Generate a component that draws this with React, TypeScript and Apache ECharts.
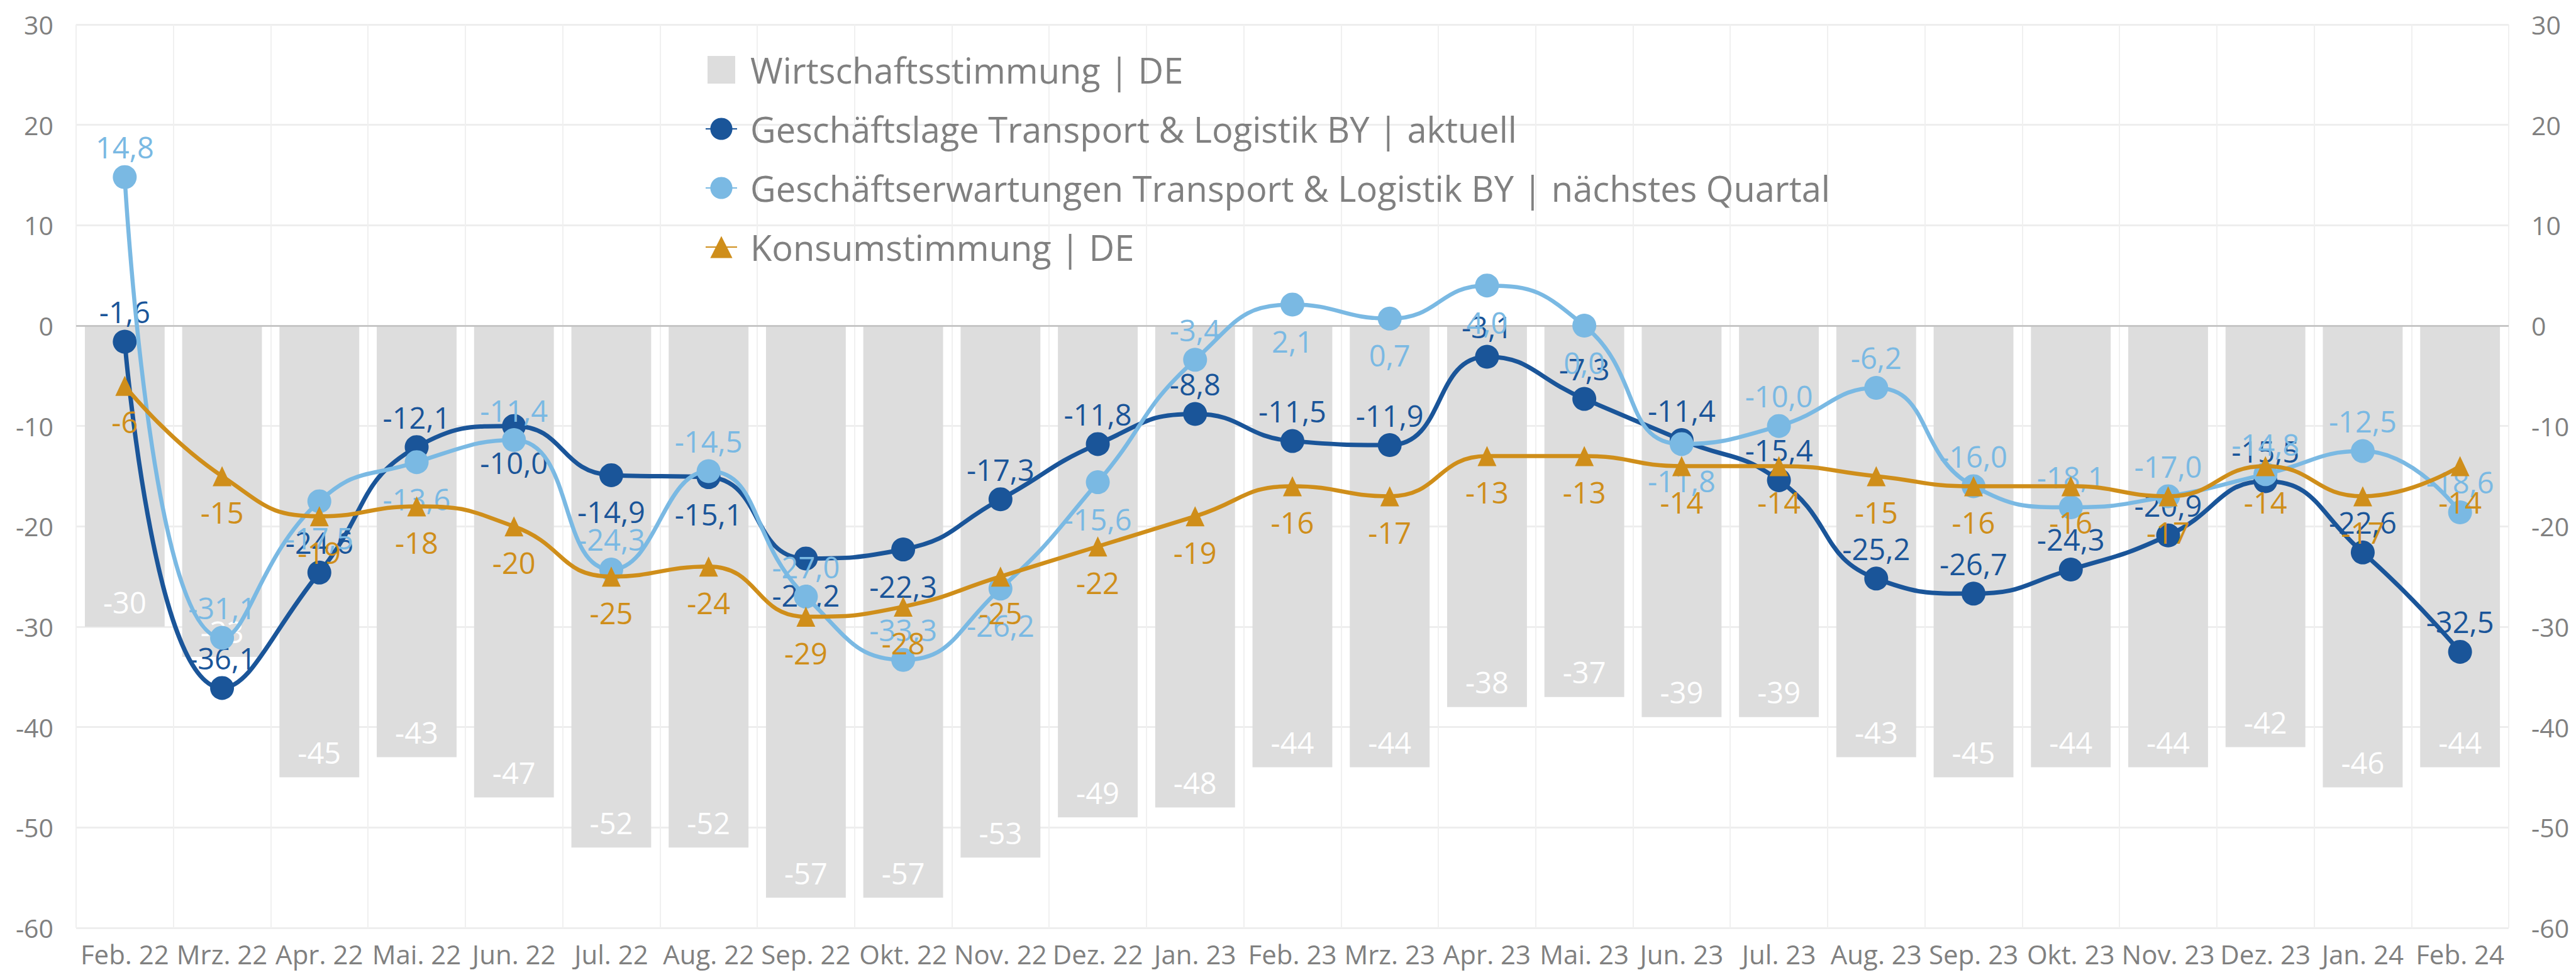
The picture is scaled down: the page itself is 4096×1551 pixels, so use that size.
import React, { useEffect, useRef } from "react";
import * as echarts from "echarts";

const categories = [
  "Feb. 22", "Mrz. 22", "Apr. 22", "Mai. 22", "Jun. 22", "Jul. 22", "Aug. 22", "Sep. 22", "Okt. 22",
  "Nov. 22", "Dez. 22", "Jan. 23", "Feb. 23", "Mrz. 23", "Apr. 23", "Mai. 23", "Jun. 23", "Jul. 23",
  "Aug. 23", "Sep. 23", "Okt. 23", "Nov. 23", "Dez. 23", "Jan. 24", "Feb. 24",
];

const wirtschaftsstimmung = [
  -30, -33, -45, -43, -47, -52, -52, -57, -57, -53, -49, -48, -44, -44, -38, -37, -39, -39, -43, -45, -44, -44, -42, -46, -44,
];

const geschaeftslage = [
  -1.6, -36.1, -24.6, -12.1, -10.0, -14.9, -15.1, -23.2, -22.3, -17.3, -11.8, -8.8, -11.5, -11.9, -3.1, -7.3, -11.4, -15.4,
  -25.2, -26.7, -24.3, -20.9, -15.5, -22.6, -32.5,
];

const geschaeftserwartungen = [
  14.8, -31.1, -17.5, -13.6, -11.4, -24.3, -14.5, -27.0, -33.3, -26.2, -15.6, -3.4, 2.1, 0.7, 4.0, 0.0, -11.8, -10.0,
  -6.2, -16.0, -18.1, -17.0, -14.8, -12.5, -18.6,
];

const konsumstimmung = [
  -6, -15, -19, -18, -20, -25, -24, -29, -28, -25, -22, -19, -16, -17, -13, -13, -14, -14, -15, -16, -16, -17, -14, -17, -14,
];

const yTicks = { min: -60, max: 30, interval: 10 };

const seriesNames = [
  "Wirtschaftsstimmung | DE",
  "Geschäftslage Transport & Logistik BY | aktuell",
  "Geschäftserwartungen Transport & Logistik BY | nächstes Quartal",
  "Konsumstimmung | DE",
];

// label placement (styling): indices whose labels sit below the marker
const lageBelow = [4, 5, 6, 7, 8];
const erwartungBelow = [2, 3, 9, 10, 12, 13, 14, 15, 16];

const COLORS = {
  bar: "#DDDDDD",
  dark: "#1A5599",
  light: "#7AB9E3",
  gold: "#CF8E1A",
  text: "#808080",
};

const FONT = "'Open Sans', 'Noto Sans', sans-serif";

const fmt1 = (v: number) => v.toFixed(1).replace(".", ",");

function withLabelPos(values: number[], below: number[] | "all", dTop: number, dBottom: number) {
  return values.map((v, i) => {
    const isBelow = below === "all" || below.includes(i);
    return {
      value: v,
      label: { position: isBelow ? "bottom" : "top", distance: isBelow ? dBottom : dTop },
    };
  });
}

export default function App() {
  const ref = useRef<HTMLDivElement>(null);

  useEffect(() => {
    document.body.style.margin = "0";
    if (!ref.current) return;
    const chart = echarts.init(ref.current, undefined, { renderer: "svg" });

    const labelBase = { show: true, fontFamily: FONT, fontSize: 47 };

    chart.setOption({
      animation: false,
      backgroundColor: "#FFFFFF",
      textStyle: { fontFamily: FONT },
      grid: { left: 121, right: 107, top: 39, bottom: 75, containLabel: false },
      legend: {
        orient: "vertical",
        left: 1116,
        top: 74,
        itemWidth: 50,
        itemHeight: 44,
        itemGap: 30,
        textStyle: {
          color: COLORS.text,
          fontSize: 56,
          fontFamily: FONT,
          lineHeight: 64,
          padding: [0, 0, 0, 16],
        },
        data: [
          { name: seriesNames[0], icon: "path://M0,0H10V10H0Z" },
          { name: seriesNames[1] },
          { name: seriesNames[2] },
          { name: seriesNames[3] },
        ],
      },
      xAxis: {
        type: "category",
        data: categories,
        boundaryGap: true,
        axisLine: { show: false },
        axisTick: { show: false },
        axisLabel: { color: COLORS.text, fontSize: 42, fontFamily: FONT, margin: 20, interval: 0 },
        splitLine: { show: true, interval: 0, lineStyle: { color: "#F0F0F0", width: 2 } },
      },
      yAxis: [
        {
          type: "value",
          min: yTicks.min,
          max: yTicks.max,
          interval: yTicks.interval,
          axisLine: { show: false },
          axisTick: { show: false },
          axisLabel: { color: COLORS.text, fontSize: 41, fontFamily: FONT, margin: 36 },
          splitLine: { show: true, lineStyle: { color: "#EEEEEE", width: 3 } },
        },
        {
          type: "value",
          position: "right",
          min: yTicks.min,
          max: yTicks.max,
          interval: yTicks.interval,
          axisLine: { show: false },
          axisTick: { show: false },
          axisLabel: { color: COLORS.text, fontSize: 41, fontFamily: FONT, margin: 36 },
          splitLine: { show: false },
        },
      ],
      series: [
        {
          name: seriesNames[0],
          type: "bar",
          data: wirtschaftsstimmung,
          barCategoryGap: "18%",
          itemStyle: { color: COLORS.bar },
          label: {
            ...labelBase,
            position: "insideBottom",
            distance: 16,
            color: "#FFFFFF",
            formatter: (p: any) => String(p.value),
          },
          markLine: {
            silent: true,
            symbol: "none",
            label: { show: false },
            lineStyle: { color: "#BFBFBF", width: 2.5, type: "solid" },
            data: [{ yAxis: 0 }],
            z: 3,
          },
          z: 1,
        },
        {
          name: seriesNames[1],
          type: "line",
          data: withLabelPos(geschaeftslage, lageBelow, 5, 16),
          smooth: 0.5,
          symbol: "circle",
          symbolSize: 38,
          lineStyle: { color: COLORS.dark, width: 7 },
          itemStyle: { color: COLORS.dark },
          label: { ...labelBase, color: COLORS.dark, formatter: (p: any) => fmt1(p.value) },
          z: 4,
        },
        {
          name: seriesNames[2],
          type: "line",
          data: withLabelPos(geschaeftserwartungen, erwartungBelow, 5, 16),
          smooth: 0.5,
          symbol: "circle",
          symbolSize: 38,
          lineStyle: { color: COLORS.light, width: 6.5 },
          itemStyle: { color: COLORS.light },
          label: { ...labelBase, color: COLORS.light, formatter: (p: any) => fmt1(p.value) },
          z: 5,
        },
        {
          name: seriesNames[3],
          type: "line",
          data: withLabelPos(konsumstimmung, "all", 5, 18),
          smooth: 0.5,
          symbol: "triangle",
          symbolSize: [30, 32],
          lineStyle: { color: COLORS.gold, width: 6.5 },
          itemStyle: { color: COLORS.gold },
          label: { ...labelBase, color: COLORS.gold, formatter: (p: any) => String(p.value) },
          z: 6,
        },
      ],
    });

    return () => chart.dispose();
  }, []);

  return <div ref={ref} style={{ width: 4096, height: 1551 }} />;
}
